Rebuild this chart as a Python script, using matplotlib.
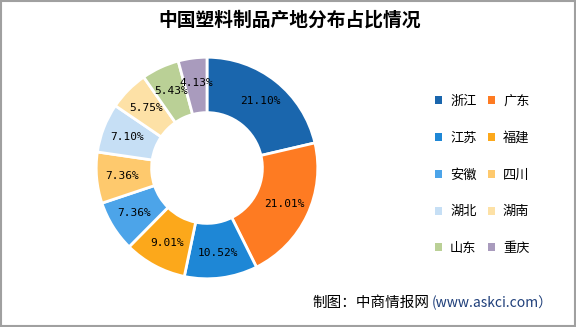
import matplotlib
matplotlib.use("Agg")
import matplotlib.pyplot as plt
from matplotlib.patches import Patch, Rectangle
import numpy as np

plt.rcParams['font.family'] = ['Noto Sans CJK SC', 'DejaVu Sans']

# data
provinces = ['浙江', '广东', '江苏', '福建', '安徽', '四川', '湖北', '湖南', '山东', '重庆']
shares = [21.10, 21.01, 10.52, 9.01, 7.36, 7.36, 7.10, 5.75, 5.43, 4.13]
colors = ['#1a66ad', '#fe7b22', '#1e87d6', '#fca81b', '#4ca4e9',
          '#fec96d', '#c6dff5', '#fde1a6', '#bad096', '#a99bbd']

fig = plt.figure(figsize=(5.76, 3.27), dpi=100)
fig.patch.set_facecolor('white')

# donut
ax = fig.add_axes([207/576 - 113/576, 1 - (168 + 113)/327, 226/576, 226/327])
wedges, _ = ax.pie(shares, colors=colors, startangle=90, counterclock=False,
                   radius=1.0, wedgeprops=dict(width=0.5, edgecolor='white', linewidth=2))
ax.set_aspect('equal')
ax.set_xlim(-1.02, 1.02)
ax.set_ylim(-1.02, 1.02)

for w, v in zip(wedges, shares):
    mid = np.deg2rad((w.theta1 + w.theta2) / 2)
    r = 0.77
    ax.text(r * np.cos(mid), r * np.sin(mid), '%.2f%%' % v,
            ha='center', va='center', fontsize=8, family=['DejaVu Sans Mono'])

# legend, filled row by row like the original
handles = [Patch(facecolor=c, edgecolor='none') for c in colors]
order = list(range(0, len(provinces), 2)) + list(range(1, len(provinces), 2))
fig.legend([handles[i] for i in order], [provinces[i] for i in order], ncol=2,
           loc='center left', bbox_to_anchor=(423/576, 1 - 175/327), frameon=False,
           fontsize=9.5, handlelength=0.55, handleheight=0.55,
           handletextpad=0.6, columnspacing=0.85, labelspacing=1.8)

fig.text(290/576, 1 - 20/327, '中国塑料制品产地分布占比情况', ha='center', va='center',
         fontsize=13.5, fontweight='bold')
fig.text(312/576, 1 - 303/327, '制图：中商情报网', ha='left', va='center', fontsize=10.5)
fig.text(432/576, 1 - 303/327, '(www.askci.com）', ha='left', va='center',
         fontsize=10, color='#1f3f7a')

fig.add_artist(Rectangle((0.001, 0.002), 0.997, 0.995, transform=fig.transFigure,
                         fill=False, edgecolor='#a0a0a0', linewidth=1.5))

fig.savefig('out.png', dpi=100)
